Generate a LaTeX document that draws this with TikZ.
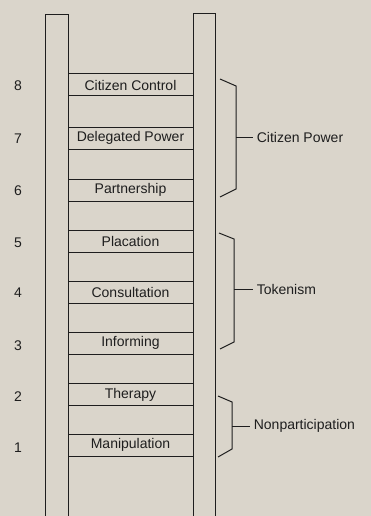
\documentclass[tikz,border=0pt]{standalone}
\usepackage{fontspec}
\setmainfont{Liberation Sans}
\definecolor{paper}{RGB}{218,213,203}
\definecolor{ink}{RGB}{30,30,30}

\begin{document}
\begin{tikzpicture}[x=1pt, y=-1pt, line width=1pt, draw=ink, text=ink,
    font=\fontsize{14}{16}\selectfont,
    rung/.style={draw, minimum width=125pt, minimum height=22pt, inner sep=0pt},
    stage/.style={anchor=west}]
        \fill[paper] (0,0) rectangle (371,516);
        \useasboundingbox (0,0) rectangle (371,516);

        % rails of the ladder
        \draw (45,520) -- (45,15) -- (68,15) -- (68,520);
        \draw (193,520) -- (193,14) -- (215,14) -- (215,520);

        % rungs
        \node[rung] (r8) at (130.5,85) {Citizen Control};
        \node[rung] (r7) at (130.5,138) {Delegated Power};
        \node[rung] (r6) at (130.5,190) {Partnership};
        \node[rung] (r5) at (130.5,241.5) {Placation};
        \node[rung] (r4) at (130.5,292.5) {Consultation};
        \node[rung] (r3) at (130.5,343) {Informing};
        \node[rung] (r2) at (130.5,394.5) {Therapy};
        \node[rung] (r1) at (130.5,445) {Manipulation};

        % step numbers
        \node (n8) at (18,86) {8};
        \node (n7) at (18,139) {7};
        \node (n6) at (18,191) {6};
        \node (n5) at (18,243) {5};
        \node (n4) at (18,293) {4};
        \node (n3) at (18,346) {3};
        \node (n2) at (18,397) {2};
        \node (n1) at (18,448) {1};

        % citizen power
        \coordinate (P1) at (220,79);
        \coordinate (P2) at (236,86);
        \coordinate (P3) at (236,189);
        \coordinate (P4) at (220,197);
        \draw (P1) -- (P2) -- (P3) -- (P4);
        \coordinate (PM) at (236,137);
        \node[stage] (power) at (253,137) {Citizen Power};
        \draw (PM) -- (power.west);

        % tokenism
        \coordinate (T1) at (219,233);
        \coordinate (T2) at (234,239);
        \coordinate (T3) at (234,342);
        \coordinate (T4) at (220,349);
        \draw (T1) -- (T2) -- (T3) -- (T4);
        \coordinate (TM) at (234,289);
        \node[stage] (token) at (253,289) {Tokenism};
        \draw (TM) -- (token.west);

        % nonparticipation
        \coordinate (N1) at (218,396);
        \coordinate (N2) at (232,402);
        \coordinate (N3) at (232,449);
        \coordinate (N4) at (218,457);
        \draw (N1) -- (N2) -- (N3) -- (N4);
        \coordinate (NM) at (232,426);
        \node[stage] (nonpart) at (250,426) {Nonparticipation};
        \draw (NM) -- (nonpart.west);

    \end{tikzpicture}
\end{document}
